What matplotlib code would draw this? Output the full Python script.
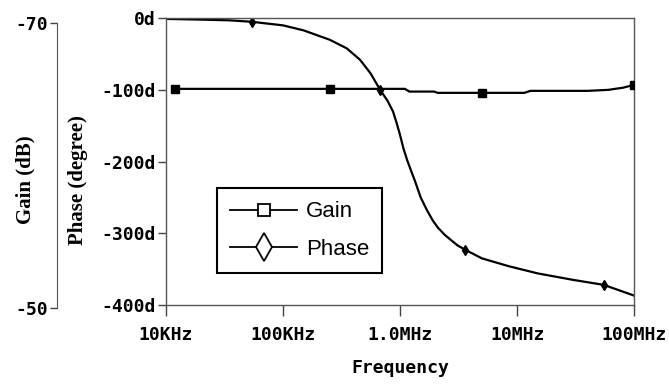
import numpy as np
import matplotlib.pyplot as plt
from matplotlib.lines import Line2D

# phase curve (degrees) vs frequency (Hz)
freq = [1e4, 2e4, 3.5e4, 5.4e4, 1e5, 1.5e5, 2.5e5, 3.5e5, 4.55e5, 5.6e5, 6.76e5, 7.8e5,
        8.7e5, 9.3e5, 1e6, 1.07e6, 1.15e6, 1.25e6, 1.34e6, 1.5e6, 1.7e6, 1.9e6, 2.1e6,
        2.4e6, 2.7e6, 3.1e6, 3.6e6, 5e6, 8.5e6, 1.5e7, 3e7, 5.5e7, 1e8]
phase = [-1, -2, -3, -5, -10, -17, -30, -42, -58, -77, -100, -115,
         -130, -145, -163, -182, -198, -214, -227, -250, -268, -282, -292,
         -302, -309, -317, -323, -335, -346, -356, -365, -372, -387]
phase_marks = [3, 10, 26, 31]

# gain (dB) vs frequency
gfreq = [1.2e4, 2.5e5, 1.1e6, 1.2e6, 1.95e6, 2.1e6, 5e6, 1.15e7, 1.3e7, 4e7, 6e7, 8e7, 1e8]
gain = [-65.37, -65.37, -65.37, -65.18, -65.18, -65.09, -65.09, -65.09, -65.23, -65.23,
        -65.3, -65.45, -65.65]
gain_marks = [0, 1, 6, 12]

xticks = [1e4, 1e5, 1e6, 1e7, 1e8]
xlabels = ['10KHz', '100KHz', '1.0MHz', '10MHz', '100MHz']
pticks = [0, -100, -200, -300, -400]
plabels = ['0d', '-100d', '-200d', '-300d', '-400d']

tickfont = dict(family='DejaVu Sans Mono', weight='bold', size=13)
labfont = dict(family='Liberation Serif', weight='bold', size=15)
spine_c = '#555555'

fig = plt.figure(figsize=(6.69, 3.87), dpi=100)
ax = fig.add_axes([0.248, 0.212, 0.700, 0.741])
ax.plot(freq, phase, color='black', lw=1.6, marker='d', ms=5.5,
        markevery=phase_marks)
ax.set_xscale('log')
ax.set_xlim(1e4, 1e8)
ax.set_ylim(-400, 0)
ax.set_xticks(xticks)
ax.set_xticklabels(xlabels, fontdict=tickfont)
ax.set_yticks(pticks)
ax.set_yticklabels(plabels, fontdict=tickfont)
ax.minorticks_off()
ax.tick_params(axis='x', direction='out', length=8, width=1, color='#444444', pad=7)
ax.tick_params(axis='y', direction='out', length=6, width=1, color='#444444', pad=1.5)
for s in ax.spines.values():
    s.set_color(spine_c)
    s.set_linewidth(1)
ax.set_xlabel('Frequency', fontdict=tickfont, labelpad=11)

# gain axis, same x range, its own left spine
gx = fig.add_axes([0.248, 0.204, 0.700, 0.737], sharex=ax)
gx.patch.set_visible(False)
gx.spines['left'].set_position(('axes', -0.233))
for k in ['top', 'right', 'bottom']:
    gx.spines[k].set_visible(False)
gx.spines['left'].set_color(spine_c)
gx.plot(gfreq, gain, color='black', lw=1.6, marker='s', ms=5.5, markevery=gain_marks)
gx.set_ylim(-50, -70)
gx.set_yticks([-70, -50])
gx.set_yticklabels(['-70', '-50'])
gx.xaxis.set_visible(False)
gx.tick_params(axis='y', direction='out', length=5, width=1, color='#444444', pad=1.5)
plt.setp(gx.get_yticklabels(), **tickfont)

fig.text(25 / 669, 1 - 180 / 387, 'Gain (dB)', rotation=90, ha='center', va='center', **labfont)
fig.text(78 / 669, 1 - 180 / 387, 'Phase (degree)', rotation=90, ha='center', va='center', **labfont)

handles = [Line2D([], [], color='black', lw=1.3, marker='s', ms=9, mfc='white', mec='black', mew=1.3),
           Line2D([], [], color='black', lw=1.3, marker='d', ms=14, mfc='white', mec='black', mew=1.3)]
leg = gx.legend(handles, ['Gain', 'Phase'], loc='upper left',
                bbox_to_anchor=(217 / 669, 1 - 188 / 387), bbox_transform=fig.transFigure,
                borderaxespad=0, prop=dict(family='Liberation Sans', size=16), fancybox=False,
                edgecolor='black', framealpha=1, handlelength=3.0, handletextpad=0.4,
                borderpad=0.6, labelspacing=0.75)
leg.get_frame().set_linewidth(1.5)

fig.savefig('out.png', dpi=100)
